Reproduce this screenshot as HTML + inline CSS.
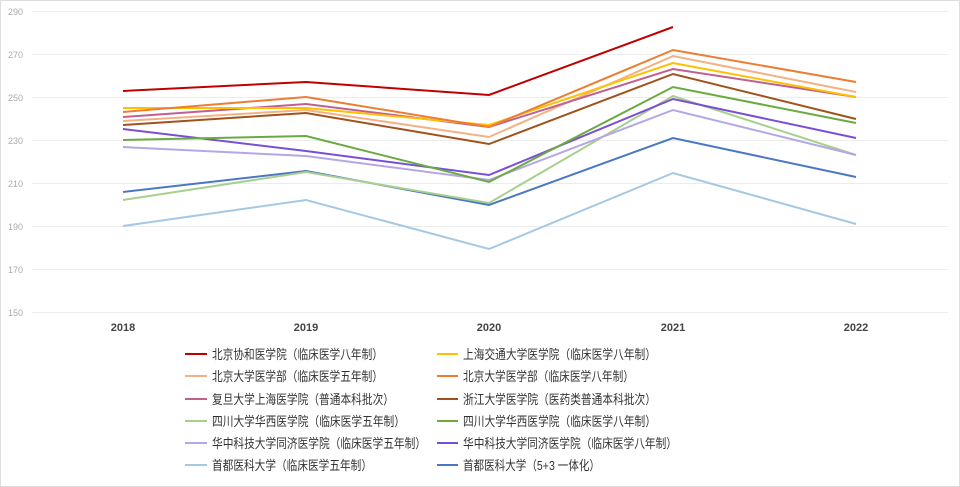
<!DOCTYPE html>
<html><head><meta charset="utf-8"><style>
body{margin:0;background:#fff;}
svg{display:block;font-family:"Liberation Sans","Noto Sans CJK SC",sans-serif;}
</style></head><body>
<svg width="960" height="487" viewBox="0 0 960 487">
<rect x="0.5" y="0.5" width="959" height="486" fill="#fff" stroke="#ddd"/>
<g stroke="#ececec" stroke-width="1">
<line x1="32" x2="948" y1="11.5" y2="11.5"/><line x1="32" x2="948" y1="54.5" y2="54.5"/>
<line x1="32" x2="948" y1="97.5" y2="97.5"/><line x1="32" x2="948" y1="140.5" y2="140.5"/>
<line x1="32" x2="948" y1="183.5" y2="183.5"/><line x1="32" x2="948" y1="226.5" y2="226.5"/>
<line x1="32" x2="948" y1="269.5" y2="269.5"/><line x1="32" x2="948" y1="312.5" y2="312.5"/>
</g>
<g fill="#aaa" font-size="9">
<text x="8" y="15">290</text><text x="8" y="58">270</text><text x="8" y="101">250</text><text x="8" y="144">230</text>
<text x="8" y="187">210</text><text x="8" y="230">190</text><text x="8" y="273">170</text><text x="8" y="316">150</text>
</g>
<g fill="#444" font-size="11" font-weight="bold" text-anchor="middle">
<text x="123" y="331">2018</text><text x="306" y="331">2019</text><text x="489" y="331">2020</text><text x="673" y="331">2021</text><text x="856" y="331">2022</text>
</g>
<g fill="none" stroke-width="2">
<polyline stroke="#a5c8e4" points="123,226 306,200 489,249 673,173 856,224"/>
<polyline stroke="#4a78c4" points="123,192 306,171 489,205 673,138 856,177"/>
<polyline stroke="#a8d08d" points="123,200 306,172 489,203 673,96 856,155"/>
<polyline stroke="#b4a7e6" points="123,147 306,156 489,180 673,110 856,155"/>
<polyline stroke="#7a4fd6" points="123,129 306,151 489,175 673,99 856,138"/>
<polyline stroke="#6aaa42" points="123,140 306,136 489,182 673,87 856,123"/>
<polyline stroke="#a0521d" points="123,125 306,113 489,144 673,74 856,119"/>
<polyline stroke="#f4b183" points="123,121 306,110 489,137 673,56 856,92"/>
<polyline stroke="#c06090" points="123,117 306,104 489,127 673,69 856,97"/>
<polyline stroke="#ffc000" points="123,108 306,108 489,125 673,63 856,97"/>
<polyline stroke="#ed7d31" points="123,112 306,97 489,127 673,50 856,82"/>
<polyline stroke="#c00000" points="123,91 306,82 489,95 673,27"/>
</g>
<g font-size="13" fill="#333">
<line x1="185" x2="207" y1="354" y2="354" stroke="#c00000" stroke-width="2"/><text x="212" y="359" textLength="171" lengthAdjust="spacingAndGlyphs">北京协和医学院（临床医学八年制）</text>
<line x1="185" x2="207" y1="376" y2="376" stroke="#f4b183" stroke-width="2"/><text x="212" y="381" textLength="171" lengthAdjust="spacingAndGlyphs">北京大学医学部（临床医学五年制）</text>
<line x1="185" x2="207" y1="399" y2="399" stroke="#c06090" stroke-width="2"/><text x="212" y="404" textLength="182" lengthAdjust="spacingAndGlyphs">复旦大学上海医学院（普通本科批次）</text>
<line x1="185" x2="207" y1="421" y2="421" stroke="#a8d08d" stroke-width="2"/><text x="212" y="426" textLength="193" lengthAdjust="spacingAndGlyphs">四川大学华西医学院（临床医学五年制）</text>
<line x1="185" x2="207" y1="443" y2="443" stroke="#b4a7e6" stroke-width="2"/><text x="212" y="448" textLength="214" lengthAdjust="spacingAndGlyphs">华中科技大学同济医学院（临床医学五年制）</text>
<line x1="185" x2="207" y1="465" y2="465" stroke="#a5c8e4" stroke-width="2"/><text x="212" y="470" textLength="160" lengthAdjust="spacingAndGlyphs">首都医科大学（临床医学五年制）</text>
<line x1="437" x2="458" y1="354" y2="354" stroke="#ffc000" stroke-width="2"/><text x="463" y="359" textLength="193" lengthAdjust="spacingAndGlyphs">上海交通大学医学院（临床医学八年制）</text>
<line x1="437" x2="458" y1="376" y2="376" stroke="#ed7d31" stroke-width="2"/><text x="463" y="381" textLength="171" lengthAdjust="spacingAndGlyphs">北京大学医学部（临床医学八年制）</text>
<line x1="437" x2="458" y1="399" y2="399" stroke="#a0521d" stroke-width="2"/><text x="463" y="404" textLength="193" lengthAdjust="spacingAndGlyphs">浙江大学医学院（医药类普通本科批次）</text>
<line x1="437" x2="458" y1="421" y2="421" stroke="#6aaa42" stroke-width="2"/><text x="463" y="426" textLength="193" lengthAdjust="spacingAndGlyphs">四川大学华西医学院（临床医学八年制）</text>
<line x1="437" x2="458" y1="443" y2="443" stroke="#7a4fd6" stroke-width="2"/><text x="463" y="448" textLength="214" lengthAdjust="spacingAndGlyphs">华中科技大学同济医学院（临床医学八年制）</text>
<line x1="437" x2="458" y1="465" y2="465" stroke="#4a78c4" stroke-width="2"/><text x="463" y="470" textLength="137" lengthAdjust="spacingAndGlyphs">首都医科大学（5+3 一体化）</text>
</g>
</svg>
</body></html>
